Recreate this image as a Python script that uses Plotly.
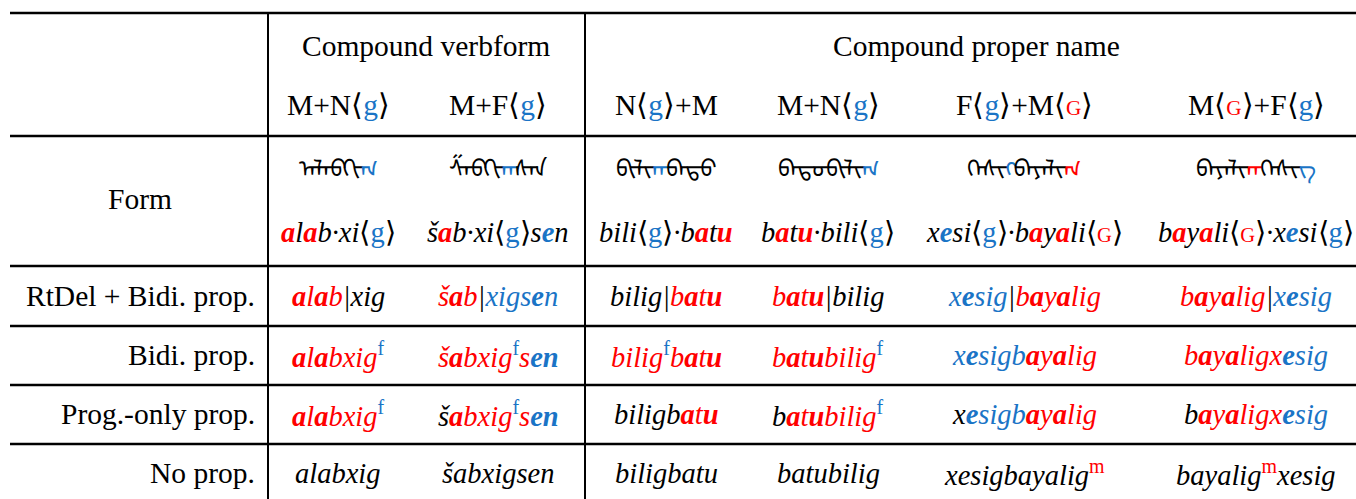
import plotly.graph_objects as go

RED = "#ff0000"
BLUE = "#1a74c6"
FONT = "Liberation Serif"

# ---------------- data ----------------
group_headers = ["Compound verbform", "Compound proper name"]

G = [("⟨", "U"), ("g", "ub"), ("⟩", "U")]
GG = [("⟨", "U"), ("G", "uG"), ("⟩", "U")]

sub_headers = [
    [("M+N", "U")] + G,
    [("M+F", "U")] + G,
    [("N", "U")] + G + [("+M", "U")],
    [("M+N", "U")] + G,
    [("F", "U")] + G + [("+M", "U")] + GG,
    [("M", "U")] + GG + [("+F", "U")] + G,
]

row_labels = ["Form", "RtDel + Bidi. prop.", "Bidi. prop.", "Prog.-only prop.", "No prop."]

form_script = [
    [("ᠠᠯᠠᠪᠬᠢ", "mk"), ("ᠭ", "mb")],
    [("ᠱᠠᠪᠬᠢ", "mk"), ("ᠭ", "mb"), ("ᠰᠡᠨ", "mk")],
    [("ᠪᠢᠯᠢ", "mk"), ("ᠭ", "mb"), ("ᠪᠠᠲᠤ", "mk")],
    [("ᠪᠠᠲᠤᠪᠢᠯᠢ", "mk"), ("ᠭ", "mb")],
    [("ᠬᠡᠰᠢ", "mk"), ("ᠭ", "mb"), ("ᠪᠠᠶᠠᠯᠢ", "mk"), ("ᠭ", "mr")],
    [("ᠪᠠᠶᠠᠯᠢ", "mk"), ("ᠭ", "mr"), ("ᠬᠡᠰᠢ", "mk"), ("ᠭ", "mb")],
]

form_translit = [
    [("a", "R"), ("l", "k"), ("a", "R"), ("b·xi", "k")] + G,
    [("š", "k"), ("a", "R"), ("b·xi", "k")] + G + [("s", "k"), ("e", "B"), ("n", "k")],
    [("bili", "k")] + G + [("·b", "k"), ("a", "R"), ("t", "k"), ("u", "R")],
    [("b", "k"), ("a", "R"), ("t", "k"), ("u", "R"), ("·bili", "k")] + G,
    [("x", "k"), ("e", "B"), ("si", "k")] + G + [("·b", "k"), ("a", "R"), ("y", "k"), ("a", "R"), ("li", "k")] + GG,
    [("b", "k"), ("a", "R"), ("y", "k"), ("a", "R"), ("li", "k")] + GG + [("·x", "k"), ("e", "B"), ("si", "k")] + G,
]

rtdel_bidi = [
    [("a", "R"), ("l", "r"), ("a", "R"), ("b", "r"), ("|", "k"), ("xig", "k")],
    [("š", "r"), ("a", "R"), ("b", "r"), ("|", "k"), ("xigs", "b"), ("e", "B"), ("n", "b")],
    [("bilig", "k"), ("|", "k"), ("b", "r"), ("a", "R"), ("t", "r"), ("u", "R")],
    [("b", "r"), ("a", "R"), ("t", "r"), ("u", "R"), ("|", "k"), ("bilig", "k")],
    [("x", "b"), ("e", "B"), ("sig", "b"), ("|", "k"), ("b", "r"), ("a", "R"), ("y", "r"), ("a", "R"), ("lig", "r")],
    [("b", "r"), ("a", "R"), ("y", "r"), ("a", "R"), ("lig", "r"), ("|", "k"), ("x", "b"), ("e", "B"), ("sig", "b")],
]

bidi = [
    [("a", "R"), ("l", "r"), ("a", "R"), ("bxig", "r"), ("f", "sb")],
    [("š", "r"), ("a", "R"), ("bxig", "r"), ("f", "sb"), ("s", "r"), ("e", "B"), ("n", "B")],
    [("bilig", "r"), ("f", "sb"), ("b", "r"), ("a", "R"), ("t", "r"), ("u", "R")],
    [("b", "r"), ("a", "R"), ("t", "r"), ("u", "R"), ("bilig", "r"), ("f", "sb")],
    [("x", "b"), ("e", "B"), ("sigb", "b"), ("a", "R"), ("y", "r"), ("a", "R"), ("lig", "r")],
    [("b", "r"), ("a", "R"), ("y", "r"), ("a", "R"), ("ligx", "r"), ("e", "B"), ("sig", "b")],
]

prog_only = [
    [("a", "R"), ("l", "r"), ("a", "R"), ("bxig", "r"), ("f", "sb")],
    [("š", "k"), ("a", "R"), ("bxig", "r"), ("f", "sb"), ("s", "r"), ("e", "B"), ("n", "B")],
    [("biligb", "k"), ("a", "R"), ("t", "r"), ("u", "R")],
    [("b", "k"), ("a", "R"), ("t", "r"), ("u", "R"), ("bilig", "r"), ("f", "sb")],
    [("x", "k"), ("e", "B"), ("sigb", "b"), ("a", "R"), ("y", "r"), ("a", "R"), ("lig", "r")],
    [("b", "k"), ("a", "R"), ("y", "r"), ("a", "R"), ("ligx", "r"), ("e", "B"), ("sig", "b")],
]

no_prop = [
    [("alabxig", "k")],
    [("šabxigsen", "k")],
    [("biligbatu", "k")],
    [("batubilig", "k")],
    [("xesigbayalig", "k"), ("m", "sr")],
    [("bayalig", "k"), ("m", "sr"), ("xesig", "k")],
]

body_rows = [rtdel_bidi, bidi, prog_only, no_prop]

# ---------------- layout geometry ----------------
W, H = 1356, 499
FS_LABEL = 29.5
FS_CELL = 28.5
col_x = [338, 498, 666, 828, 1024, 1256]
group_x = [426, 976]
hline_y = [13, 136, 266, 326, 385, 444]
vline_x = [268, 585]
row_y = [296, 355, 414, 473]


def rich(segs, fs):
    out = []
    for txt, st in segs:
        if st == "U":
            out.append(txt)
        elif st == "ub":
            out.append(f"<span style='color:{BLUE}'>{txt}</span>")
        elif st == "uG":
            out.append(f"<span style='color:{RED};font-size:{fs*0.72:.1f}px'>{txt}</span>")
        elif st == "k":
            out.append(f"<i>{txt}</i>")
        elif st == "r":
            out.append(f"<span style='color:{RED}'><i>{txt}</i></span>")
        elif st == "R":
            out.append(f"<span style='color:{RED}'><b><i>{txt}</i></b></span>")
        elif st == "b":
            out.append(f"<span style='color:{BLUE}'><i>{txt}</i></span>")
        elif st == "B":
            out.append(f"<span style='color:{BLUE}'><b><i>{txt}</i></b></span>")
        elif st == "sb":
            out.append(f"<sup><span style='color:{BLUE}'>{txt}</span></sup>")
        elif st == "sr":
            out.append(f"<sup><span style='color:{RED}'>{txt}</span></sup>")
        elif st == "mk":
            out.append(txt)
        elif st == "mb":
            out.append(f"<span style='color:{BLUE}'>{txt}</span>")
        elif st == "mr":
            out.append(f"<span style='color:{RED}'>{txt}</span>")
    return "".join(out)


fig = go.Figure()
fig.add_trace(go.Scatter(x=[0, W], y=[0, H], mode="markers",
                         marker=dict(opacity=0), hoverinfo="skip", showlegend=False))

shapes = []
for y in hline_y:
    shapes.append(dict(type="line", xref="x", yref="y", x0=10, x1=W, y0=y, y1=y,
                       line=dict(color="black", width=2.5)))
for x in vline_x:
    shapes.append(dict(type="line", xref="x", yref="y", x0=x, x1=x, y0=hline_y[0], y1=H,
                       line=dict(color="black", width=2)))

ann = []
def add(x, y, text, xanchor="center", size=FS_LABEL, family=FONT):
    ann.append(dict(x=x, y=y, xref="x", yref="y", text=text, showarrow=False,
                    xanchor=xanchor, yanchor="middle",
                    font=dict(family=family, size=size, color="black")))

for gx, gt in zip(group_x, group_headers):
    add(gx, 46, gt)
for cx, sh in zip(col_x, sub_headers):
    add(cx, 105, rich(sh, FS_LABEL))

add(140, 199, row_labels[0])
for cx, fs in zip(col_x, form_script):
    add(cx, 163, rich(fs, 24), size=24, family="Noto Sans Mongolian")
for cx, ft in zip(col_x, form_translit):
    add(cx, 232, rich(ft, FS_CELL), size=FS_CELL)

for ry, lab, rowvals in zip(row_y, row_labels[1:], body_rows):
    add(257, ry, lab, xanchor="right")
    for cx, v in zip(col_x, rowvals):
        add(cx, ry, rich(v, FS_CELL), size=FS_CELL)

fig.update_layout(
    width=W, height=H, margin=dict(l=0, r=0, t=0, b=0),
    font=dict(family=FONT, size=FS_LABEL, color="black"),
    paper_bgcolor="white", plot_bgcolor="white",
    xaxis=dict(range=[0, W], visible=False, fixedrange=True),
    yaxis=dict(range=[H, 0], visible=False, fixedrange=True),
    shapes=shapes, annotations=ann, showlegend=False,
)
fig.write_html("out.html", config={"displayModeBar": False},
               post_script="document.body.style.margin='0';")
